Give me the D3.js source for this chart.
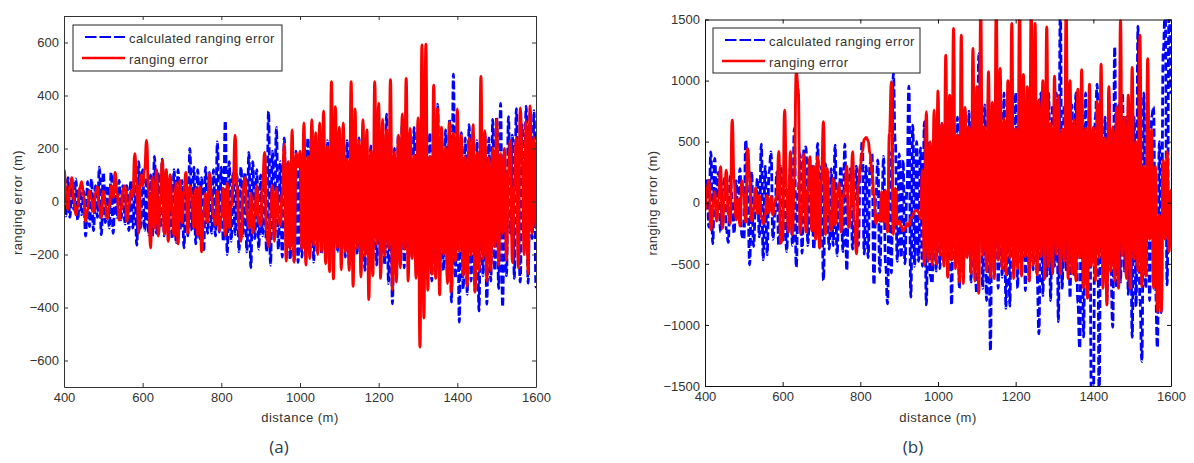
<!DOCTYPE html>
<html><head><meta charset="utf-8">
<style>
html,body{margin:0;padding:0;background:#fff;width:1194px;height:463px;overflow:hidden}
text{font-family:"Liberation Sans",Arial,sans-serif;fill:#333}
</style>
<script src="https://cdn.jsdelivr.net/npm/d3@7"></script></head>
<body><svg id="c" width="1194" height="463"></svg>
<script>
const distance = d3.range(400, 1601, 5);
const blueA = [
70,-55,90,-60,60,-30,85,-70,50,-50,40,-130,75,-95,85,-110,60,-60,130,-125,
110,-80,60,-100,110,-120,70,-60,80,-70,60,-85,60,-110,80,-100,60,-165,150,-100,
120,-110,90,-125,100,-130,170,-120,110,-100,160,-130,90,-125,100,-140,120,-155,120,-110,
80,-175,90,-130,200,-110,130,-160,120,-140,90,-190,130,-120,110,-120,120,-130,225,-115,
130,-150,305,-200,150,-150,110,-125,100,-190,130,-130,110,-190,185,-250,150,-140,120,-180,
100,-130,150,-190,340,-240,190,-130,280,-180,150,-210,240,-130,150,-220,200,-226,190,-230,
150,-210,210,-180,240,-190,285,-229,200,-160,190,-200,210,-180,230,-215,220,-150,200,-190,
180,-200,260,-210,230,-240,250,-250,200,-200,240,-230,250,-260,180,-250,210,-220,230,-240,
220,-260,250,-240,330,-310,260,-386,200,-280,250,-230,300,-250,230,-200,240,-210,280,-240,
270,-335,220,-280,290,-260,260,-300,250,-260,367,-280,230,-260,270,-300,310,-380,481,-290,
300,-455,260,-330,240,-350,290,-300,260,-340,230,-413,280,-280,260,-388,240,-300,310,-260,
320,-329,370,-398,60,-280,320,-120,250,-290,350,-100,-304,290,-60,360,-308,340,-140,343,-323,120];
const redA = [
120,40,-30,60,90,10,-50,-20,50,75,20,-75,-30,40,10,-40,30,55,-20,-60,
40,-10,-65,-20,60,15,110,30,-70,-30,45,60,-75,-20,40,20,180,70,-120,100,
60,120,230,40,-175,90,-100,120,-130,20,155,-120,120,-150,100,-40,-130,70,-160,80,
-80,40,110,-120,60,20,-100,50,-130,55,-190,-40,30,-80,105,20,-60,-90,40,-110,
-60,50,-130,70,-100,-20,60,250,60,-110,-150,40,90,-40,-100,30,-120,-60,60,-80,
-90,60,185,-110,-170,-50,60,-150,50,-60,-90,30,215,-225,150,-180,270,-229,180,130,
190,-180,296,-240,170,-215,309,-165,260,-200,296,-190,342,-235,210,-265,452,-292,358,-175,
280,-258,296,-190,160,-260,452,-320,349,-175,230,-285,309,-205,270,-370,190,-280,452,-160,
370,-290,310,-205,270,-175,460,-333,185,-304,250,-250,330,-180,464,-300,276,-215,175,-290,
315,-549,591,-440,594,-335,170,-275,439,-290,350,-352,280,-200,205,-310,300,-342,260,-225,
349,-190,250,-280,170,-320,240,-205,290,-342,185,-260,472,-215,267,-300,165,-260,200,-170,
309,-240,180,-120,200,-220,120,230,-230,60,240,-250,353,160,-200,300,-272,361,-120,240,-100];
const blueB = [
-60,200,-200,417,-336,363,40,250,-240,100,200,-220,-325,220,30,-250,180,-120,280,-280,
-300,513,100,-508,254,-358,-50,200,-280,480,-467,300,-426,250,417,-300,-100,250,-350,300,
-320,350,-400,-80,300,-350,608,-527,100,400,-413,450,458,-350,150,300,-380,-100,485,-320,
300,-636,320,-100,-380,280,-350,472,-434,50,300,-400,480,-555,150,280,-380,0,300,-350,
280,507,-420,300,-450,320,400,-672,60,350,-570,-100,380,-500,-828,420,-576,1058,500,-480,
400,-450,350,-500,100,955,-773,635,-520,500,-480,450,-520,663,-836,500,-600,-659,550,-560,
600,-540,650,-480,700,-600,600,-837,650,-500,700,-700,750,-620,700,-450,750,-650,800,-560,
-741,1221,900,-700,800,-800,900,-1213,800,-520,900,-700,800,-610,900,-864,700,-845,900,-540,
900,-700,800,-500,900,-720,800,-640,900,-550,800,-600,-1074,900,-760,800,-600,900,-800,800,
-520,900,-973,1600,-700,800,-560,900,-780,800,-600,900,-820,-1192,850,-1100,900,-700,800,-1600,
-1600,700,970,-1600,800,-560,700,-800,900,-560,-1020,1276,-700,800,-650,900,-560,700,-750,800,
-1101,700,-850,1445,-800,-1300,900,-700,800,-800,700,785,-700,-1186,500,-900,1235,1600,-673,1600,900];
const redB = [
-60,110,185,-222,-40,90,-150,30,295,-210,60,267,-100,-170,676,190,-140,30,-190,180,
60,-160,444,200,-150,-60,120,-90,60,-120,-170,-100,60,-80,50,-100,10,60,420,-331,
-280,758,120,-240,417,-260,200,1072,935,-250,-60,400,-240,100,376,-230,300,-300,380,-372,
180,663,-260,280,-100,-230,200,-180,60,160,-240,40,100,300,-200,-50,417,-140,-418,150,
300,420,520,535,510,400,250,60,-170,-100,-150,90,-160,100,-240,570,990,-260,120,-180,
-150,-190,-230,-210,-170,-190,-130,-100,-70,-60,-80,-130,267,-508,745,-480,500,-508,758,-500,
916,-430,650,-520,1208,-610,880,-470,1426,-540,560,-650,1372,-660,780,-450,620,-580,1263,-640,
950,-741,1600,-430,620,-560,1072,-610,820,-620,1600,-470,1099,-540,690,-590,1000,-450,1467,-620,
610,-540,1600,-600,1050,-440,950,-640,1600,-510,1467,-590,840,-440,1000,-620,1440,-520,650,-580,
1036,-420,870,-580,600,-480,1600,-620,1000,-580,680,-640,930,-450,1090,-700,610,-782,970,-520,
620,-640,830,-450,1134,-700,530,-837,950,-560,620,-640,780,-700,1494,-430,700,-620,880,-700,
1107,-460,500,-560,1372,-686,300,-600,1180,-300,600,-700,300,-891,-100,-891,350,-300,417,-400,100];
const xTicks = [400,600,800,1000,1200,1400,1600];
const yTicksA = [-600,-400,-200,0,200,400,600];
const yTicksB = [-1500,-1000,-500,0,500,1000,1500];
const legendLabels = ["calculated ranging error","ranging error"];
const xLabel = "distance (m)", yLabel = "ranging error (m)";

const svg = d3.select("#c");
function panel(o){
  const w=o.r-o.l,h=o.b-o.t;
  const g=svg.append("g").attr("transform",`translate(${o.l},${o.t})`);
  const x=d3.scaleLinear().domain([400,1600]).range([0,w]);
  const y=d3.scaleLinear().domain(o.dom).range([h,0]);
  const id="clip"+o.name;
  g.append("clipPath").attr("id",id).append("rect").attr("width",w).attr("height",h);
  const line=d3.line().curve(d3.curveBumpX).x((d,i)=>x(distance[i])).y(d=>y(d));
  const lines=g.append("g").attr("clip-path",`url(#${id})`);
  lines.append("path").datum(o.blue).attr("d",line).attr("fill","none")
    .attr("stroke","#0000ff").attr("stroke-width",2.8).attr("stroke-dasharray","8 3");
  lines.append("path").datum(o.red).attr("d",line).attr("fill","none")
    .attr("stroke","#ff0000").attr("stroke-width",2.9);
  const ax=(a)=>a.call(s=>s.selectAll("text").style("font-size","13px").attr("font-family",null))
    .call(s=>s.selectAll("path,line").attr("stroke",o.frame));
  g.append("g").attr("transform",`translate(0,${h})`).call(d3.axisBottom(x).tickValues(xTicks).tickFormat(d3.format("d")).tickSizeInner(-4).tickSizeOuter(0).tickPadding(6)).call(ax);
  g.append("g").call(d3.axisTop(x).tickValues(xTicks).tickFormat("").tickSizeInner(-4).tickSizeOuter(0)).call(ax);
  g.append("g").call(d3.axisLeft(y).tickValues(o.yt).tickFormat(d3.format("d")).tickSizeInner(-4).tickSizeOuter(0).tickPadding(5)).call(ax);
  g.append("g").attr("transform",`translate(${w},0)`).call(d3.axisRight(y).tickValues(o.yt).tickFormat("").tickSizeInner(-4).tickSizeOuter(0)).call(ax);
  const L=g.append("g").attr("transform",`translate(${o.lx-o.l},${o.ly-o.t})`);
  L.append("rect").attr("width",o.lw).attr("height",o.lh).attr("fill","#fff").attr("stroke","#222");
  L.append("line").attr("x1",12).attr("x2",52).attr("y1",12).attr("y2",12).attr("stroke","#0000ff").attr("stroke-width",2.2).attr("stroke-dasharray","11.5 3");
  L.append("line").attr("x1",9).attr("x2",52).attr("y1",33).attr("y2",33).attr("stroke","#ff0000").attr("stroke-width",2.4);
  L.selectAll("text").data(legendLabels).join("text").attr("x",56).attr("y",(d,i)=>i?34:13).attr("dy","0.35em")
    .style("font-size","13px").style("letter-spacing","0.38px").text(d=>d);
  svg.append("text").attr("x",(o.l+o.r)/2).attr("y",422).attr("text-anchor","middle").style("font-size","13px").style("letter-spacing","0.5px").text(xLabel);
  svg.append("text").attr("transform",`translate(${o.yl},${o.ylc}) rotate(-90)`).attr("text-anchor","middle").style("font-size","13px").style("letter-spacing","0.45px").text(yLabel);
  svg.append("text").attr("x",o.capx).attr("y",453).attr("text-anchor","middle").style("font-size","17px")
    .style("font-family","'Open Sans',sans-serif").style("fill","#2b3a55").text(o.cap);
}
panel({name:"a",l:64,r:536,t:16,b:387,dom:[-700,700],blue:blueA,red:redA,yt:yTicksA,lx:73,ly:25,lw:209,lh:46,yl:22,ylc:202.5,capx:279,cap:"(a)",frame:"#333"});
panel({name:"b",l:705,r:1171,t:19.5,b:386,dom:[-1500,1500],blue:blueB,red:redB,yt:yTicksB,lx:713,ly:28,lw:207,lh:45,yl:657,ylc:203,capx:913,cap:"(b)",frame:"#111"});
</script></body></html>
